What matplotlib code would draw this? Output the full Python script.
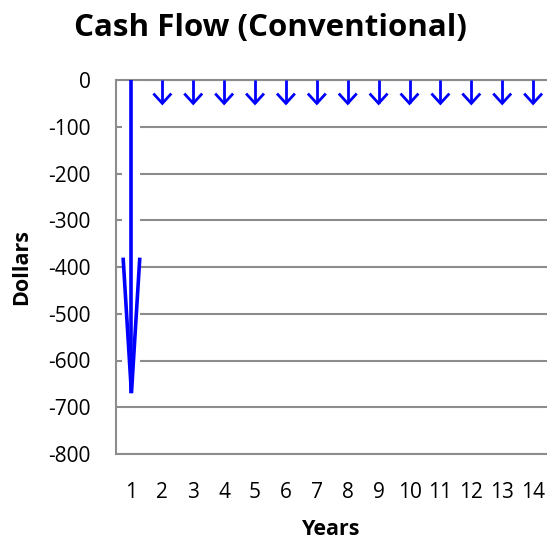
import numpy as np
import matplotlib as mpl
import matplotlib.pyplot as plt

mpl.rcParams['font.family'] = "Open Sans"
mpl.rcParams['axes.unicode_minus'] = False

years = list(range(1, 15))
cash_flow = [-670] + [-50] * 13
y_ticks = [0, -100, -200, -300, -400, -500, -600, -700, -800]

fig = plt.figure(figsize=(5.47, 5.42), dpi=100)
ax = fig.add_axes([116/547, 88/542, (547-116)/547, 374/542])

ax.set_xlim(0.5, 14.45)
ax.set_ylim(-800, 0)
ax.set_yticks(y_ticks)
ax.set_xticks(years)
ax.tick_params(length=0, labelsize=15)
ax.tick_params(axis='y', pad=18)
ax.tick_params(axis='x', pad=20)
ax.grid(axis='y', color='#8c8c8c', lw=1.5)
ax.set_axisbelow(True)
for s in ['left', 'top', 'bottom']:
    ax.spines[s].set_color('#8c8c8c')
    ax.spines[s].set_linewidth(1.5)
ax.spines['right'].set_visible(False)

# white band behind the big arrow (gridlines hidden there)
ax.bar(years[0], cash_flow[0], width=0.58, color='white', zorder=2)

blue = '#0000ff'
for yr, val in zip(years, cash_flow):
    if yr == 1:
        hw, hl, lw = 0.27, 290, 2.6
    else:
        hw, hl, lw = 0.29, 21, 2.0
    ax.plot([yr, yr], [0, val], color=blue, lw=lw, solid_capstyle='butt', zorder=3)
    ax.plot([yr - hw, yr, yr + hw], [val + hl, val, val + hl], color=blue, lw=lw,
            solid_joinstyle='miter', solid_capstyle='butt', zorder=3)

ax.set_xlabel('Years', fontsize=15.5, fontweight='bold', labelpad=12)
ax.set_ylabel('Dollars', fontsize=15.5, fontweight='bold', labelpad=12)
fig.suptitle('Cash Flow (Conventional)', fontsize=22.5, fontweight='bold',
             x=270/547, y=1-28/542, va='center')

fig.savefig('out.png', dpi=100)
